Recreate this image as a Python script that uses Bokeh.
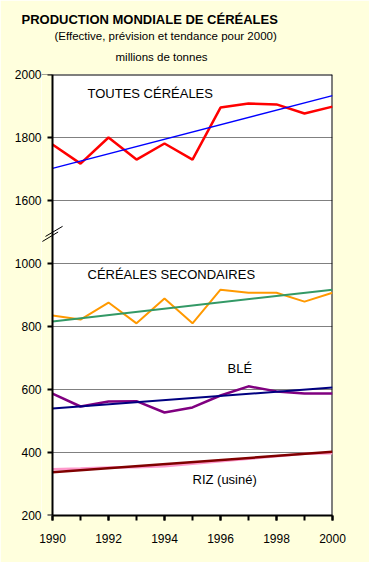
from bokeh.plotting import figure
from bokeh.models import (Range1d, FixedTicker, SingleIntervalTicker, Label, Arrow,
                          Title, Span, BoxAnnotation, LinearAxis)
from bokeh.embed import file_html
from bokeh.resources import INLINE

# ---------------- data ----------------
years = [1990, 1991, 1992, 1993, 1994, 1995, 1996, 1997, 1998, 1999, 2000]
toutes = [1778, 1717, 1800, 1730, 1781, 1730, 1895, 1908, 1905, 1876, 1898]
secondaires = [835, 822, 876, 810, 889, 810, 917, 907, 907, 879, 907]
ble = [587, 546, 562, 563, 527, 543, 581, 610, 594, 587, 587]
riz = [347, 349, 352, 353, 356, 364, 372, 380, 388, 396, 398]

trend_years = [1990, 2000]
toutes_trend = [1702, 1933]
secondaires_trend = [816, 917]
ble_trend = [540, 606]
riz_trend = [337, 402]

y_ticks = [200, 400, 600, 800, 1000, 1600, 1800, 2000]
BREAK_SHIFT = 400   # 1000..1600 drawn as one 200 step


def yt(v):
    """broken axis: values above the break are shifted down"""
    return v - BREAK_SHIFT if v > 1200 else v


FONT = "Liberation Sans"
BG = "#FFFFDD"
X0, X1 = 1990, 2000
LEFT_PAD = 11 / 28.0   # room left of the axis for the break mark

p = figure(width=369, height=562, output_backend="svg", toolbar_location=None,
           x_range=Range1d(X0 - LEFT_PAD, X1), y_range=Range1d(200, yt(2000)),
           min_border_left=41, min_border_right=37, min_border_top=74,
           min_border_bottom=47)
p.background_fill_color = "white"
p.border_fill_color = BG
p.outline_line_color = None

# titles: p.title is outermost; added titles stack outward from the frame
p.title.text = "PRODUCTION MONDIALE DE CÉRÉALES"
p.title.text_font = FONT
p.title.text_font_size = "13px"
p.title.text_font_style = "bold"
p.title.text_color = "black"
p.title.align = "left"
p.title.offset = -20
p.title.standoff = 12
p.add_layout(Title(text="millions de tonnes", text_font=FONT,
                   text_font_size="11.5px", text_font_style="normal", text_color="black",
                   align="left", offset=74, standoff=23), "above")
p.add_layout(Title(text="(Effective, prévision et tendance pour 2000)", text_font=FONT,
                   text_font_size="11.5px", text_font_style="normal", text_color="black",
                   align="left", offset=13, standoff=-9), "above")

# y axis labels (at the frame edge) ...
ya = p.yaxis[0]
ya.ticker = FixedTicker(ticks=[yt(v) for v in y_ticks])
ya.major_label_overrides = {yt(v): str(v) for v in y_ticks}
ya.axis_line_color = None
ya.major_tick_line_color = None
ya.minor_tick_line_color = None
ya.major_tick_out = 0
ya.major_tick_in = 0
ya.major_label_standoff = 0
ya.major_label_text_font = FONT
ya.major_label_text_font_size = "12px"
ya.major_label_text_color = "black"
# ... and the visible axis line + ticks at 1990
yb = LinearAxis(fixed_location=X0, bounds=(200, yt(2000)),
                ticker=FixedTicker(ticks=[yt(v) for v in y_ticks]),
                axis_line_color="black", axis_line_width=2,
                major_tick_line_color="black", major_tick_line_width=2,
                major_tick_out=5, major_tick_in=0, minor_tick_line_color=None,
                major_label_text_color=None, major_label_standoff=0,
                major_label_text_font_size="1px")
p.add_layout(yb, "left")

xa = p.xaxis[0]
xa.ticker = SingleIntervalTicker(interval=2, num_minor_ticks=2)
xa.bounds = (X0, X1)
xa.axis_line_color = "black"
xa.axis_line_width = 2
xa.major_tick_line_color = "black"
xa.major_tick_line_width = 2
xa.major_tick_out = 5
xa.major_tick_in = 0
xa.minor_tick_line_color = "black"
xa.minor_tick_line_width = 2
xa.minor_tick_out = 5
xa.minor_tick_in = 0
xa.major_label_standoff = 13
xa.major_label_text_font = FONT
xa.major_label_text_font_size = "12px"
xa.major_label_text_color = "black"

p.xgrid.grid_line_color = None
p.ygrid.ticker = FixedTicker(ticks=[yt(v) for v in y_ticks[1:-1]])
p.ygrid.grid_line_color = "#808080"
p.ygrid.grid_line_width = 1

# plot-area border (top and right)
p.add_layout(Span(location=yt(2000), dimension="width", line_color="black",
                  line_width=2, level="underlay"))
p.add_layout(Span(location=X1, dimension="height", line_color="black",
                  line_width=2, level="underlay"))
# page colour left of the axis
p.add_layout(BoxAnnotation(right=X0, fill_color=BG, fill_alpha=1, line_color=None,
                           level="underlay"))

# series
p.line(years, [yt(v) for v in toutes], line_color="#FF0000", line_width=2.5)
p.line(trend_years, [yt(v) for v in toutes_trend], line_color="#0000FF", line_width=1.5)
p.line(years, secondaires, line_color="#FF9900", line_width=2)
p.line(trend_years, secondaires_trend, line_color="#339966", line_width=2)
p.line(years, ble, line_color="#800080", line_width=2.5)
p.line(trend_years, ble_trend, line_color="#000080", line_width=2)
p.line(years, riz, line_color="#FF99CC", line_width=2.5)
p.line(trend_years, riz_trend, line_color="#800000", line_width=2.5)

# axis break mark
for (xs, ys, xe, ye) in [(1989.64, 1070, 1990.20, 1100), (1989.75, 1086, 1990.36, 1118)]:
    p.add_layout(Arrow(x_start=xs, y_start=ys, x_end=xe, y_end=ye, start=None, end=None,
                       line_color="black", line_width=1))


def lab(x, y, text):
    p.add_layout(Label(x=x, y=y, text=text, text_font=FONT, text_font_size="13px",
                       text_align="left", text_baseline="middle", text_color="black"))


lab(1991.25, 1540, "TOUTES CÉRÉALES")
lab(1991.25, 965, "CÉRÉALES SECONDAIRES")
lab(1996.25, 667, "BLÉ")
lab(1995.0, 314, "RIZ (usiné)")

open("out.html", "w").write(file_html(p, INLINE))
